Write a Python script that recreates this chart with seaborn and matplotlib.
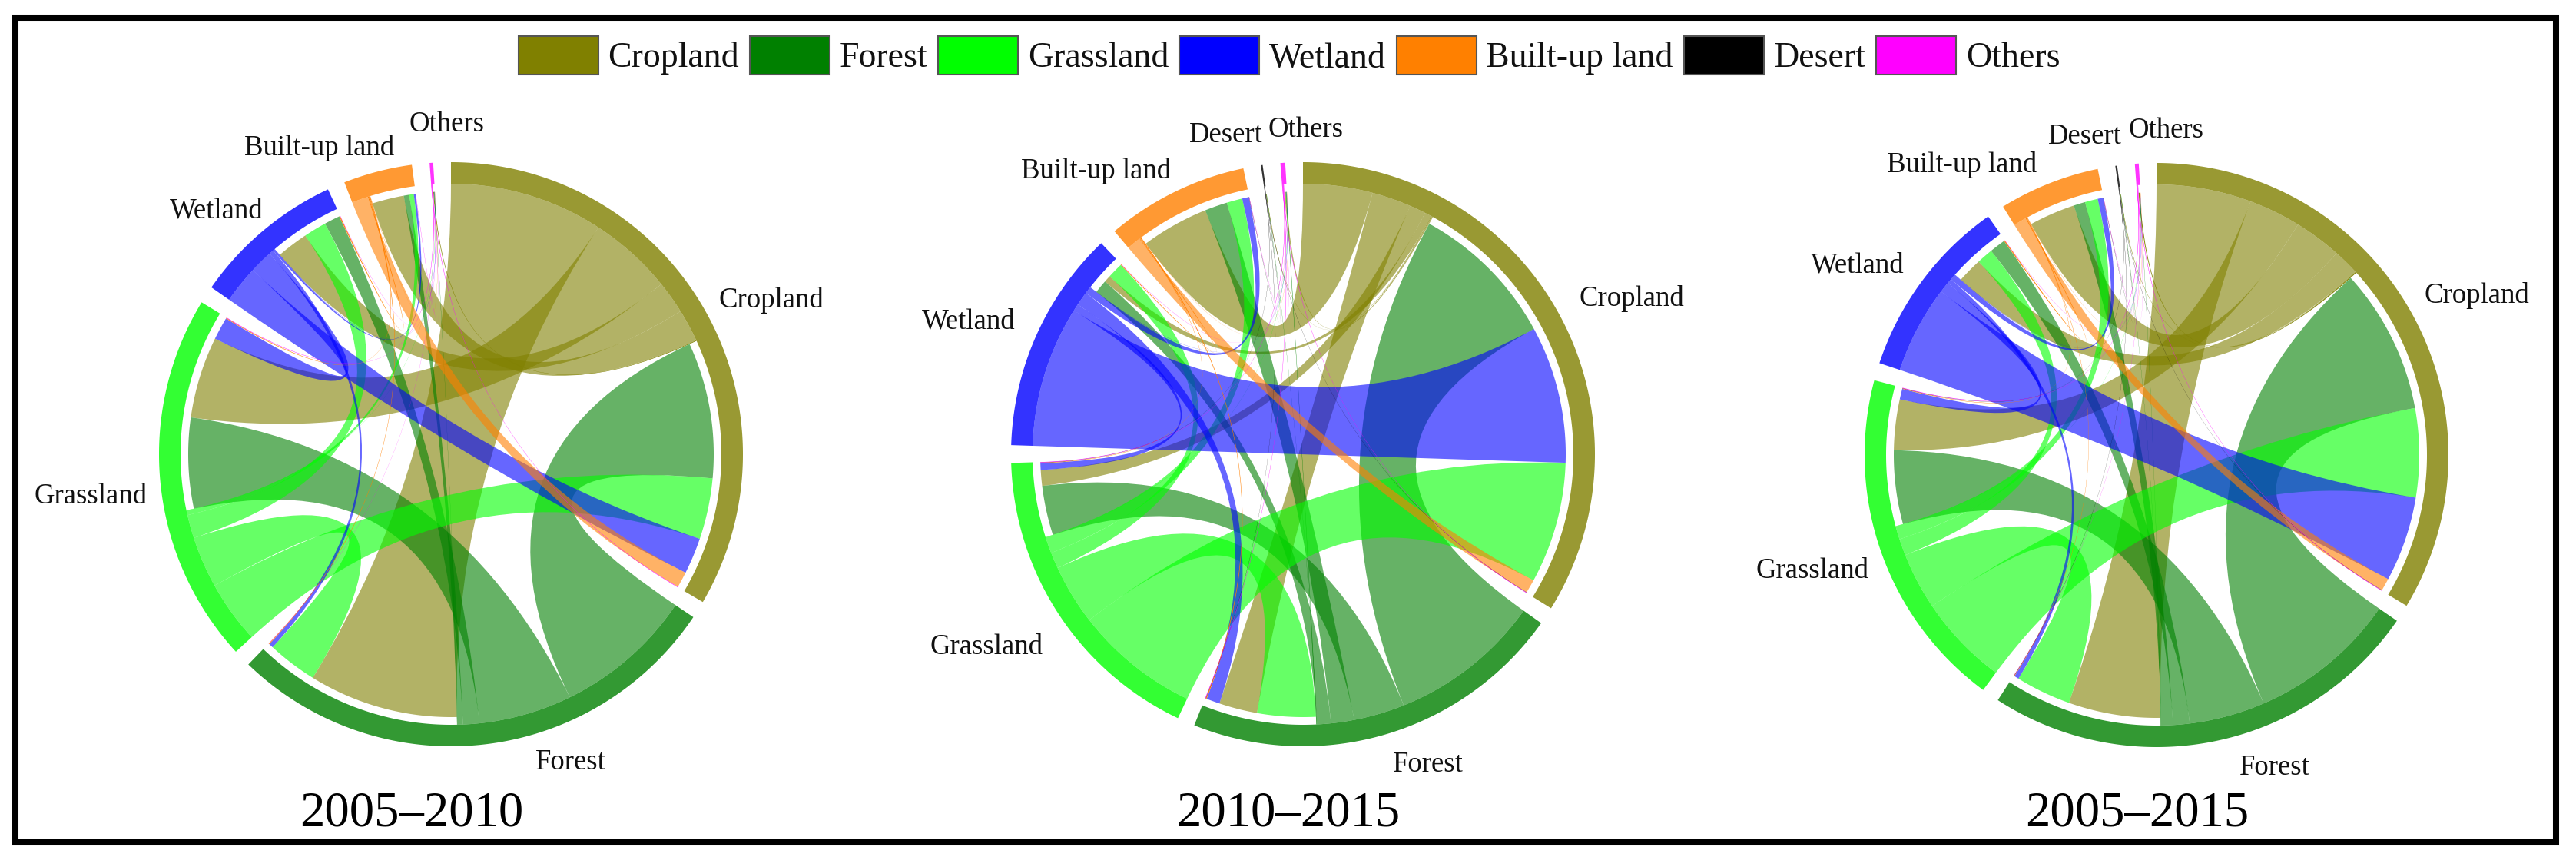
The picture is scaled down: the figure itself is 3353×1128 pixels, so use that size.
import numpy as np
import matplotlib
matplotlib.use("Agg")
import matplotlib.pyplot as plt
import seaborn as sns
from matplotlib.colors import to_rgba
from matplotlib.patches import Patch, PathPatch, Polygon, Rectangle
from matplotlib.path import Path

# land use classes, in the order they run clockwise round each circle
CLASSES = ["Cropland", "Forest", "Grassland", "Wetland", "Built-up land", "Desert", "Others"]
CLASS_COLORS = ["#808000", "#008000", "#00FF00", "#0000FF", "#FF8000", "#000000", "#FF00FF"]
CR, FO, GR, WE, BU, DE, OT = range(7)

PERIODS = ["2005–2010", "2010–2015", "2005–2015"]

FLOWS_0510 = [
    [0, 33, 18, 7, 7, 0, 0.15],
    [30, 0, 20, 3.5, 1.2, 0, 0.05],
    [13.5, 11, 0, 5, 1.0, 0, 0.05],
    [8, 1, 5, 0, 0.4, 0, 0.05],
    [3.5, 0.15, 0.15, 0.2, 0, 0, 0.05],
    [0, 0, 0, 0, 0, 0, 0],
    [0.1, 0.05, 0.1, 0.05, 0.05, 0, 0],
]
FLOWS_1015 = [
    [0, 8.5, 3.5, 1.5, 15, 0.1, 0.3],
    [33, 0, 11, 3, 5, 0.05, 0.1],
    [27, 13, 0, 3.5, 3.5, 0, 0.05],
    [30.5, 3, 1.5, 0, 1.5, 0, 0.05],
    [3, 0.2, 0.1, 0.15, 0, 0, 0.05],
    [0.05, 0.05, 0.05, 0, 0.05, 0, 0],
    [0.1, 0.1, 0.1, 0.05, 0.05, 0, 0],
]
FLOWS_0515 = [
    [0, 20, 11, 5.5, 10, 0.1, 0.2],
    [31.5, 0, 16, 3.5, 2.5, 0.05, 0.05],
    [19.3, 12, 0, 3.5, 2.8, 0, 0.05],
    [18.5, 1, 2.3, 0, 1.2, 0, 0.05],
    [2.7, 0.1, 0.1, 0.2, 0, 0, 0.05],
    [0.05, 0.05, 0.05, 0, 0.05, 0, 0],
    [0.1, 0.05, 0.1, 0.05, 0.05, 0, 0],
]
ALL_FLOWS = [FLOWS_0510, FLOWS_1015, FLOWS_0515]

# clockwise order of the link ends inside each sector
OUT_0510 = [[FO, GR, WE, BU, DE, OT], [CR, GR, WE, BU, DE, OT], [CR, FO, WE, BU, DE, OT],
            [CR, GR, FO, BU, DE, OT], [CR, WE, GR, FO, DE, OT], [CR, FO, GR], [CR, FO, GR, WE, BU]]
OUT_1015 = [[BU, FO, GR, WE, DE, OT], [CR, GR, BU, WE, DE, OT], [CR, FO, WE, BU, DE, OT],
            [CR, GR, FO, BU, DE, OT], [CR, WE, GR, FO, DE, OT], [CR, FO, GR, BU], [CR, FO, GR, WE, BU]]
OUT_0515 = [[FO, GR, BU, WE, DE, OT], [CR, GR, WE, BU, DE, OT], [CR, FO, WE, BU, DE, OT],
            [CR, GR, FO, BU, DE, OT], [CR, WE, GR, FO, DE, OT], [CR, FO, GR, BU], [CR, FO, GR, WE, BU]]
IN_0510 = [[FO, GR, WE, BU, DE, OT], [CR, GR, WE, BU, DE, OT], [FO, CR, WE, BU, DE, OT],
           [CR, GR, FO, BU, DE, OT], [CR, FO, GR, WE, DE, OT], [CR, FO], [CR, FO, GR, WE, BU]]
IN_1015 = [[FO, WE, GR, BU, DE, OT], [GR, CR, WE, BU, DE, OT], [FO, CR, WE, BU, DE, OT],
           [FO, CR, GR, BU, DE, OT], [CR, FO, GR, WE, DE, OT], [CR, FO], [CR, FO, GR, WE, BU]]
IN_0515 = [[FO, GR, WE, BU, DE, OT], [CR, GR, WE, BU, DE, OT], [FO, CR, WE, BU, DE, OT],
           [CR, GR, FO, BU, DE, OT], [CR, FO, GR, WE, DE, OT], [CR, FO], [CR, FO, GR, WE, BU]]
ALL_OUT = [OUT_0510, OUT_1015, OUT_0515]
ALL_IN = [IN_0510, IN_1015, IN_0515]

# layout, in pixels of the finished picture
WIDTH, HEIGHT = 3353, 1128
CENTERS = [(587, 591), (1696, 591), (2807, 592)]
TITLE_X = [536, 1677, 2782]
TITLE_Y = 1059
R_OUTER = 380
R_INNER = 352
R_TARGET = 342
GAP_DEG = 3.5
LABEL_SHIFT_Y = 5
LABEL_XY = [
    {CR: (1004, 386), FO: (743, 987), GR: (118, 641), WE: (282, 269), BU: (416, 188), OT: (582, 157)},
    {CR: (2124, 384), FO: (1859, 990), GR: (1284, 837), WE: (1261, 413), BU: (1427, 218),
     DE: (1596, 171), OT: (1700, 164)},
    {CR: (3224, 380), FO: (2961, 994), GR: (2359, 738), WE: (2418, 340), BU: (2554, 210),
     DE: (2714, 173), OT: (2820, 165)},
]


def polar(center, radius, deg):
    # angles run clockwise from 12 o'clock, y axis points down
    rad = np.radians(deg)
    return center[0] + radius * np.sin(rad), center[1] - radius * np.cos(rad)


def arc_points(center, radius, a0, a1):
    n = max(2, int(abs(a1 - a0) * 2) + 2)
    return [polar(center, radius, d) for d in np.linspace(a0, a1, n)]


def layout_sectors(flows, out_order, in_order):
    values = np.array(flows, dtype=float)
    totals = values.sum(axis=0) + values.sum(axis=1)
    scale = (360 - GAP_DEG * (totals > 0).sum()) / totals.sum()
    sectors, out_ends, in_ends = {}, {}, {}
    pos = 0.0
    for i in range(len(CLASSES)):
        if totals[i] == 0:
            continue
        start = pos
        for j in out_order[i]:
            if values[i, j] > 0:
                out_ends[(i, j)] = (pos, pos + values[i, j] * scale)
                pos += values[i, j] * scale
        for j in in_order[i]:
            if values[j, i] > 0:
                in_ends[(j, i)] = (pos, pos + values[j, i] * scale)
                pos += values[j, i] * scale
        sectors[i] = (start, pos)
        pos += GAP_DEG
    return sectors, out_ends, in_ends


def draw_link(ax, center, src_ends, dst_ends, color, alpha):
    verts = arc_points(center, R_INNER, *src_ends)
    codes = [Path.MOVETO] + [Path.LINETO] * (len(verts) - 1)
    dst = arc_points(center, R_TARGET, *dst_ends)
    verts += [center, dst[0]]
    codes += [Path.CURVE3, Path.CURVE3]
    verts += dst[1:]
    codes += [Path.LINETO] * (len(dst) - 1)
    verts += [center, verts[0]]
    codes += [Path.CURVE3, Path.CURVE3]
    ax.add_patch(PathPatch(Path(verts, codes), facecolor=to_rgba(color, alpha), edgecolor="none", lw=0))


def draw_chord(ax, idx, palette):
    center = CENTERS[idx]
    flows = ALL_FLOWS[idx]
    sectors, out_ends, in_ends = layout_sectors(flows, ALL_OUT[idx], ALL_IN[idx])
    for (i, j), ends in out_ends.items():
        # hairline links come out dark in the reference
        alpha = 0.6 if flows[i][j] >= 0.3 else 0.95
        draw_link(ax, center, ends, in_ends[(i, j)], palette[i], alpha)
    for i, (a0, a1) in sectors.items():
        pts = arc_points(center, R_OUTER, a0, a1) + arc_points(center, R_INNER, a1, a0)
        ax.add_patch(Polygon(pts, closed=True, facecolor=to_rgba(palette[i], 0.8), edgecolor="none"))
    for i, (x, y) in LABEL_XY[idx].items():
        ax.text(x, y + LABEL_SHIFT_Y, CLASSES[i], fontsize=26.5, ha="center", va="center", color="#111111")
    ax.text(TITLE_X[idx], TITLE_Y, PERIODS[idx], fontsize=46.5, ha="center", va="center", color="black")


def main():
    sns.set_theme(style="white")
    plt.rcParams["font.family"] = ["Liberation Serif", "DejaVu Serif"]
    palette = sns.color_palette(CLASS_COLORS)

    fig = plt.figure(figsize=(WIDTH / 100, HEIGHT / 100), dpi=100, facecolor="white")
    ax = fig.add_axes([0, 0, 1, 1])
    ax.set_xlim(0, WIDTH)
    ax.set_ylim(HEIGHT, 0)
    ax.axis("off")

    ax.add_patch(Rectangle((20, 23), 3307, 1073, fill=False, edgecolor="black", lw=5.8))

    for idx in range(len(PERIODS)):
        draw_chord(ax, idx, palette)

    handles = [Patch(facecolor=c, edgecolor="#555555", lw=1.5, label=name)
               for c, name in zip(palette, CLASSES)]
    fig.legend(handles=handles, ncol=len(CLASSES), loc="center",
               bbox_to_anchor=(1678 / WIDTH, 1 - 72 / HEIGHT), frameon=False,
               fontsize=33, handlelength=2.27, handleheight=1.31,
               handletextpad=0.28, columnspacing=0.3, borderpad=0, labelcolor="#111111")

    fig.savefig("out.png", dpi=100, facecolor="white")


if __name__ == "__main__":
    main()
